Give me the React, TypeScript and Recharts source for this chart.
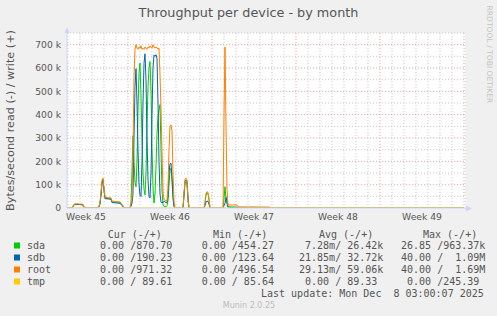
import { LineChart, Line, XAxis, YAxis, CartesianGrid } from "recharts";

// time in hours since start of Week 45 (Mon 3 Nov 2025 00:00); values in kB/s (write)
const hours = [
  46, 56, 60, 64, 72, 78, 80, 84, 106, 110, 112, 114, 116, 118, 120, 122, 128, 134, 136, 144,
  152, 156, 160, 164, 172, 174, 176, 178, 180, 182, 184, 186, 188, 190, 192, 194, 196, 198, 200, 202,
  204, 206, 208, 210, 212, 214, 216, 218, 220, 222, 224, 226, 228, 230, 232, 234, 236, 238, 240, 244,
  246, 248, 250, 252, 254, 256, 258, 260, 262, 264, 278, 280, 282, 284, 286, 288, 290, 320, 322, 324,
  326, 328, 330, 332, 358, 360, 362, 364, 366, 368, 386, 388, 452, 454, 840,
];
const sda = [
  0, 0, 14, 16, 15, 14, 3, 0, 0, 6, 20, 60, 112, 124, 80, 44, 42, 41, 27, 25,
  24, 13, 2, 0, 0, 15, 160, 310, 200, 110, 91, 200, 420, 580, 621, 480, 300, 150, 80, 56,
  150, 350, 520, 600, 628, 500, 260, 90, 21, 60, 180, 320, 390, 420, 443, 250, 73, 15, 8, 5,
  10, 30, 100, 160, 170, 120, 40, 5, 0, 0, 0, 55, 108, 112, 105, 35, 0, 0, 20, 55,
  65, 60, 35, 0, 0, 40, 91, 40, 15, 5, 4, 2, 2, 0, 0,
];
const sdb = [
  0, 0, 14, 15, 15, 13, 2, 0, 0, 5, 18, 55, 105, 120, 75, 40, 39, 37, 23, 22,
  20, 10, 2, 0, 0, 8, 20, 64, 300, 520, 597, 450, 250, 100, 55, 49, 200, 450, 620, 661,
  550, 300, 120, 50, 43, 150, 400, 600, 655, 650, 657, 640, 450, 200, 60, 25, 22, 25, 28, 24,
  22, 50, 150, 190, 192, 130, 50, 10, 0, 0, 0, 55, 115, 120, 112, 38, 0, 0, 10, 25,
  30, 28, 15, 0, 0, 10, 20, 45, 30, 3, 2, 1, 1, 0, 0,
];
const root = [
  0, 0, 16, 18, 17, 16, 4, 0, 0, 8, 24, 65, 118, 128, 84, 46, 44, 43, 29, 27,
  26, 15, 3, 0, 0, 25, 40, 250, 560, 680, 700, 685, 680, 690, 685, 695, 680, 685, 680, 690,
  685, 680, 690, 685, 695, 690, 685, 700, 690, 685, 690, 688, 680, 685, 570, 430, 240, 70, 35, 32,
  30, 90, 250, 350, 356, 330, 150, 30, 2, 0, 0, 60, 125, 128, 120, 40, 0, 0, 25, 62,
  70, 67, 40, 0, 0, 400, 690, 350, 80, 13, 13, 5, 4, 0, 0,
];
const tmp = [
  0, 0, 0, 0, 0, 0, 0, 0, 0, 0, 0, 0, 0, 0, 0, 0, 0, 0, 0, 0,
  0, 0, 0, 0, 0, 0, 0, 0, 0, 0, 0, 0, 0, 0, 0, 0, 0, 0, 0, 0,
  0, 0, 0, 0, 0, 0, 0, 0, 0, 0, 0, 0, 0, 0, 0, 0, 0, 0, 0, 0,
  0, 0, 0, 0, 0, 0, 0, 0, 0, 0, 0, 0, 0, 0, 0, 0, 0, 0, 0, 0,
  0, 0, 0, 0, 0, 0, 0, 0, 0, 0, 0, 0, 0, 0, 0,
];

const weekTicks = [84, 252, 420, 588, 756];
const weekLabels = ["Week 45", "Week 46", "Week 47", "Week 48", "Week 49"];
const weekLines = [168, 336, 504, 672, 840];
const dayLines = Array.from({ length: 33 }, (_, i) => 48 + 24 * i).filter((h) => h % 168 !== 0);
const yTicks = [0, 100, 200, 300, 400, 500, 600, 700];
const yMinor = [50, 150, 250, 350, 450, 550, 650, 750];

const names = ["sda", "sdb", "root", "tmp"];
const colors = ["#00CC00", "#0066B3", "#FF8000", "#FFCC00"];
const curVals = ["  0.00 /870.70", "  0.00 /190.23", "  0.00 /971.32", "  0.00 / 89.61"];
const minVals = ["  0.00 /454.27", "  0.00 /123.64", "  0.00 /496.54", "  0.00 / 85.64"];
const avgVals = ["  7.28m/ 26.42k", " 21.85m/ 32.72k", " 29.13m/ 59.06k", "  0.00 / 89.33"];
const maxVals = [" 26.85 /963.37k", " 40.00 /  1.09M", " 40.00 /  1.69M", "  0.00 /245.39"];
const headers = ["Cur (-/+)", "Min (-/+)", "Avg (-/+)", "Max (-/+)"];

const data = hours.map((t, i) => ({ t, sda: sda[i], sdb: sdb[i], root: root[i], tmp: tmp[i] }));

const FONT = "#555555";
const AXIS = "#CFD6F8";
const mono = "'DejaVu Sans Mono', monospace";
const sans = "'DejaVu Sans', sans-serif";
const pre = { whiteSpace: "pre" as const };

export default function App() {
  const headerX = [107.7, 213, 319, 423];
  const colX = [88, 189.7, 293, 395];
  const cols = [curVals, minVals, avgVals, maxVals];
  return (
    <div style={{ position: "absolute", left: 0, top: 0, width: 497, height: 316, background: "#F0F0F0" }}>
      <LineChart
        width={497}
        height={316}
        data={data}
        margin={{ top: 33, right: 32, left: 7, bottom: 88 }}
      >
        <CartesianGrid
          fill="#FFFFFF"
          stroke="#C8C8C8"
          strokeDasharray="1 2"
          verticalValues={dayLines}
          horizontalValues={yMinor}
        />
        <CartesianGrid
          stroke="#F2A0A0"
          strokeDasharray="1 2"
          verticalValues={weekLines}
          horizontalValues={yTicks.filter((v) => v > 0)}
        />
        <XAxis
          dataKey="t"
          type="number"
          domain={[46, 842]}
          allowDataOverflow
          ticks={weekTicks}
          interval={0}
          tickFormatter={(v) => weekLabels[weekTicks.indexOf(v)] ?? ""}
          tick={{ fill: FONT, fontSize: 9.2, fontFamily: sans }}
          tickSize={0}
          tickMargin={5}
          height={20}
          axisLine={{ stroke: AXIS }}
        />
        <YAxis
          type="number"
          domain={[0, 750]}
          allowDataOverflow
          ticks={yTicks}
          interval={0}
          tickFormatter={(v) => (v === 0 ? "0" : `${v} k`)}
          tick={{ fill: FONT, fontSize: 9.2, fontFamily: sans }}
          tickSize={0}
          tickMargin={6}
          width={60}
          axisLine={{ stroke: AXIS }}
        />
        {names.map((n, i) => (
          <Line
            key={n}
            type="linear"
            dataKey={n}
            stroke={colors[i]}
            strokeWidth={1}
            dot={false}
            activeDot={false}
            isAnimationActive={false}
          />
        ))}
      </LineChart>
      <svg
        width={497}
        height={316}
        style={{ position: "absolute", left: 0, top: 0, pointerEvents: "none" }}
      >
        <polygon points="64.5,33 69.5,33 67,27" fill={AXIS} />
        <line x1={465} y1={208.5} x2={467} y2={208.5} stroke={AXIS} />
        <polygon points="466,205.5 466,211.5 472,208.5" fill={AXIS} />
        <text x={248.5} y={16.8} textAnchor="middle" fontFamily={sans} fontSize={12.8} fill={FONT}>
          Throughput per device - by month
        </text>
        <text
          x={13.5}
          y={120.5}
          textAnchor="middle"
          transform="rotate(-90 13.5 120.5)"
          fontFamily={sans}
          fontSize={11.2}
          fill={FONT}
        >
          Bytes/second read (-) / write (+)
        </text>
        <text
          x={486.5}
          y={5.5}
          transform="rotate(90 486.5 5.5)"
          fontFamily={sans}
          fontSize={7.6}
          fill="#C4C4C4"
        >
          RRDTOOL / TOBI OETIKER
        </text>
        <g fontFamily={mono} fontSize={10} fill={FONT}>
          {headers.map((h, i) => (
            <text key={h} x={headerX[i]} y={237.6} style={pre} xmlSpace="preserve">
              {h}
            </text>
          ))}
          {names.map((n, i) => (
            <g key={n}>
              <rect x={14} y={242.5 + 12 * i} width={6} height={6} fill={colors[i]} />
              <text x={27} y={249.3 + 12 * i}>
                {n}
              </text>
              {cols.map((c, j) => (
                <text key={j} x={colX[j]} y={249.3 + 12 * i} style={pre} xmlSpace="preserve">
                  {c[i]}
                </text>
              ))}
            </g>
          ))}
          <text x={261} y={297.3} style={pre} xmlSpace="preserve">
            {"Last update: Mon Dec  8 03:00:07 2025"}
          </text>
        </g>
        <text x={249} y={307.6} textAnchor="middle" fontFamily={sans} fontSize={8} fill="#BBBBBB">
          Munin 2.0.25
        </text>
      </svg>
    </div>
  );
}
